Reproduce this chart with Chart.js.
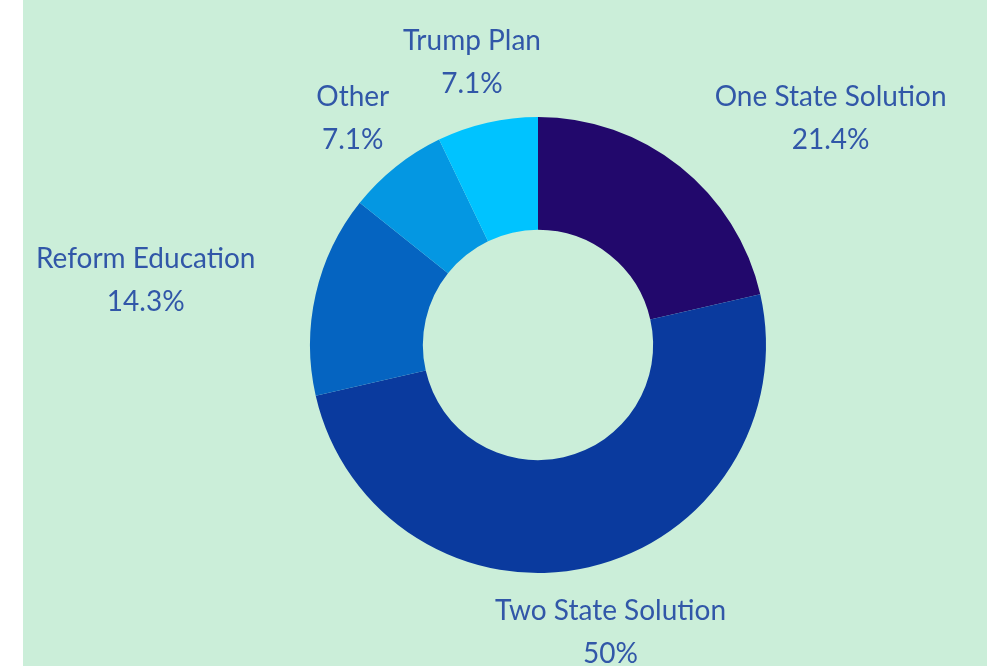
<!DOCTYPE html>
<html>
<head>
<meta charset="utf-8">
<script src="https://cdn.jsdelivr.net/npm/chart.js@4.4.0/dist/chart.umd.min.js"></script>
<style>
  body{margin:0;background:#ffffff;}
  #panel{position:absolute;left:23px;top:0;width:964px;height:666px;background:#cbeed9;}
</style>
</head>
<body>
<div id="panel"><canvas id="pollChart" width="964" height="666"></canvas></div>
<script>
// answers out of 14 responses
const answers=["One State Solution","Two State Solution","Reform Education","Other","Trump Plan"];
const counts=[3,7,2,1,1];
const sliceColors=["#22086c","#0a3a9e","#0564c1","#0497e2","#00c3ff"];

const textColor="#3157a8";
const labelFont="28px Lato";

function pctText(v,total){
  let p=Math.round(v/total*1000)/10;
  return p+"%";
}

// labels around the ring; wide side labels slide out sideways so they never touch the donut
const outsideLabels={
  id:"outsideLabels",
  afterDatasetsDraw(chart){
    const ctx=chart.ctx;
    const meta=chart.getDatasetMeta(0);
    const total=counts.reduce((a,b)=>a+b,0);
    const lineGap=43;
    ctx.save();
    ctx.font=labelFont;
    ctx.fillStyle=textColor;
    ctx.textAlign="center";
    ctx.textBaseline="middle";
    meta.data.forEach((arc,i)=>{
      const a=(arc.startAngle+arc.endAngle)/2;
      const dx=Math.cos(a), dy=Math.sin(a);
      const lines=[answers[i],pctText(counts[i],total)];
      const w=Math.max(...lines.map(t=>ctx.measureText(t).width));
      const h=lineGap+32;
      const r=arc.outerRadius+24;
      let cx=arc.x+dx*(r+45*dx*dx+w/2*(0.6+0.4*dx*dx));
      let cy=arc.y+dy*(r+h/2)+(dy>0.9?5:0);
      if(Math.abs(dx)>0.5 && w>h){
        const need=arc.outerRadius+30;
        for(let k=0;k<300;k++){
          const nx=Math.max(cx-w/2,Math.min(arc.x,cx+w/2));
          const ny=Math.max(cy-h/2,Math.min(arc.y,cy+h/2));
          if(Math.hypot(nx-arc.x,ny-arc.y)>=need)break;
          cx+=dx>=0?1:-1;
        }
      }
      ctx.fillText(lines[0],cx,cy-lineGap/2);
      ctx.fillText(lines[1],cx,cy+lineGap/2);
    });
    ctx.restore();
  }
};

const pollChart=document.getElementById("pollChart");

new Chart(pollChart,{
  type:"doughnut",
  data:{
    labels:answers,
    datasets:[{
      data:counts,
      backgroundColor:sliceColors,
      borderWidth:0,
      hoverOffset:0
    }]
  },
  options:{
    responsive:false,
    animation:false,
    cutout:"50.5%",
    layout:{padding:{left:287,right:221,top:117,bottom:93}},
    plugins:{
      legend:{display:false},
      tooltip:{enabled:false}
    }
  },
  plugins:[outsideLabels]
});
</script>
</body>
</html>
